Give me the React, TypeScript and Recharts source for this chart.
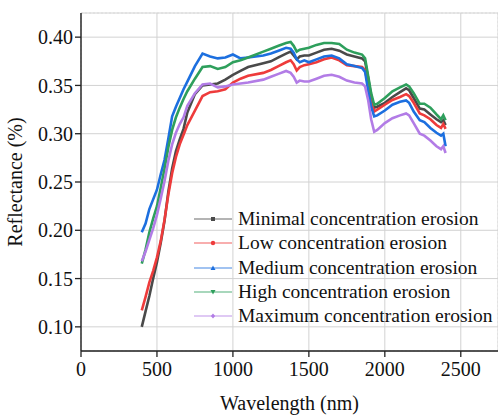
import React from 'react';
import { LineChart, Line, XAxis, YAxis, CartesianGrid } from 'recharts';

const FONT = 'Liberation Serif';

const wavelengths = [400, 425, 450, 475, 500, 525, 550, 575, 600, 625, 650, 675, 700, 750, 800, 850, 900, 950, 1000, 1050, 1100, 1200, 1250, 1300, 1350, 1380, 1400, 1420, 1440, 1470, 1500, 1550, 1600, 1650, 1700, 1750, 1800, 1850, 1870, 1890, 1910, 1930, 1950, 2000, 2050, 2100, 2140, 2160, 2190, 2230, 2260, 2300, 2340, 2370, 2385, 2400];

const minimal = [0.100, 0.116, 0.132, 0.150, 0.167, 0.187, 0.210, 0.240, 0.264, 0.282, 0.294, 0.305, 0.322, 0.341, 0.350, 0.351, 0.352, 0.356, 0.361, 0.365, 0.369, 0.373, 0.375, 0.379, 0.383, 0.385, 0.381, 0.377, 0.380, 0.381, 0.381, 0.384, 0.387, 0.388, 0.386, 0.382, 0.380, 0.378, 0.375, 0.358, 0.339, 0.327, 0.328, 0.332, 0.338, 0.343, 0.347, 0.345, 0.337, 0.326, 0.325, 0.320, 0.315, 0.312, 0.314, 0.309];
const low = [0.117, 0.131, 0.146, 0.158, 0.172, 0.189, 0.211, 0.237, 0.259, 0.276, 0.289, 0.299, 0.309, 0.324, 0.339, 0.343, 0.344, 0.346, 0.353, 0.357, 0.360, 0.363, 0.366, 0.370, 0.374, 0.376, 0.372, 0.3655, 0.369, 0.371, 0.372, 0.374, 0.377, 0.379, 0.376, 0.371, 0.370, 0.369, 0.366, 0.350, 0.333, 0.323, 0.325, 0.330, 0.335, 0.338, 0.341, 0.339, 0.332, 0.321, 0.319, 0.315, 0.309, 0.306, 0.310, 0.305];
const medium = [0.198, 0.207, 0.222, 0.232, 0.242, 0.258, 0.273, 0.295, 0.318, 0.328, 0.337, 0.346, 0.354, 0.370, 0.383, 0.380, 0.378, 0.379, 0.382, 0.378, 0.379, 0.381, 0.383, 0.386, 0.389, 0.388, 0.384, 0.377, 0.374, 0.376, 0.374, 0.377, 0.380, 0.381, 0.378, 0.372, 0.370, 0.368, 0.364, 0.345, 0.328, 0.318, 0.319, 0.324, 0.330, 0.333, 0.3345, 0.332, 0.323, 0.314, 0.312, 0.306, 0.301, 0.298, 0.300, 0.287];
const high = [0.1655, 0.180, 0.198, 0.212, 0.225, 0.244, 0.264, 0.286, 0.304, 0.317, 0.327, 0.336, 0.344, 0.357, 0.369, 0.370, 0.367, 0.369, 0.374, 0.376, 0.379, 0.385, 0.388, 0.391, 0.394, 0.395, 0.391, 0.385, 0.387, 0.388, 0.389, 0.392, 0.394, 0.394, 0.393, 0.387, 0.384, 0.382, 0.378, 0.360, 0.342, 0.330, 0.331, 0.337, 0.344, 0.348, 0.351, 0.349, 0.342, 0.331, 0.331, 0.327, 0.320, 0.315, 0.319, 0.314];
const maximum = [0.168, 0.178, 0.190, 0.202, 0.216, 0.233, 0.251, 0.272, 0.289, 0.301, 0.310, 0.317, 0.329, 0.342, 0.351, 0.352, 0.348, 0.349, 0.351, 0.352, 0.353, 0.356, 0.359, 0.362, 0.365, 0.363, 0.359, 0.353, 0.355, 0.354, 0.354, 0.357, 0.360, 0.361, 0.359, 0.355, 0.353, 0.352, 0.349, 0.335, 0.315, 0.302, 0.304, 0.311, 0.316, 0.319, 0.321, 0.319, 0.311, 0.300, 0.298, 0.293, 0.287, 0.284, 0.287, 0.280];

const seriesKeys = ['minimal', 'low', 'medium', 'high', 'maximum'];
const seriesNames = ['Minimal concentration erosion', 'Low concentration erosion', 'Medium concentration erosion', 'High concentration erosion', 'Maximum concentration erosion'];
const seriesColors = ['#4a4a4a', '#ee3b3b', '#1c6fdf', '#2e9f5c', '#b27ce6'];
const seriesMarkers = ['square', 'circle', 'triangle', 'triangleDown', 'diamond'];

const xMajorTicks = [0, 500, 1000, 1500, 2000, 2500];
const xMinorTicks = [250, 750, 1250, 1750, 2250];
const yMajorTicks = [0.1, 0.15, 0.2, 0.25, 0.3, 0.35, 0.4];
const yMinorTicks = [0.125, 0.175, 0.225, 0.275, 0.325, 0.375];
const xDomain = [0, 2745];
const yDomain = [0.075, 0.425];

const data = wavelengths.map((w, i) => ({
  w,
  minimal: minimal[i],
  low: low[i],
  medium: medium[i],
  high: high[i],
  maximum: maximum[i],
}));

const AXIS = '#222';
const tickStyle = { fill: '#111', fontSize: 20, fontFamily: FONT };

function Marker({ type, color }: { type: string; color: string }) {
  const cx = 19, cy = 6;
  if (type === 'square') return <rect x={cx - 2} y={cy - 2} width={4} height={4} fill={color} />;
  if (type === 'circle') return <circle cx={cx} cy={cy} r={2.2} fill={color} />;
  if (type === 'triangle') return <polygon points={`${cx},${cy - 2.5} ${cx - 2.5},${cy + 2} ${cx + 2.5},${cy + 2}`} fill={color} />;
  if (type === 'triangleDown') return <polygon points={`${cx},${cy + 2.5} ${cx - 2.5},${cy - 2} ${cx + 2.5},${cy - 2}`} fill={color} />;
  return <polygon points={`${cx},${cy - 2.6} ${cx + 2.2},${cy} ${cx},${cy + 2.6} ${cx - 2.2},${cy}`} fill={color} />;
}

const LegendBox = () => (
  <div style={{ position: 'absolute', left: 194, top: 206.8, fontFamily: FONT, fontSize: 19.5, color: '#111' }}>
    {seriesNames.map((name, i) => (
      <div key={name} style={{ display: 'flex', alignItems: 'center', height: 24.3, whiteSpace: 'nowrap' }}>
        <svg width={44} height={12} style={{ flex: 'none' }}>
          <line x1={0} y1={6} x2={38} y2={6} stroke={seriesColors[i]} strokeOpacity={0.55} strokeWidth={1.5} />
          <Marker type={seriesMarkers[i]} color={seriesColors[i]} />
        </svg>
        <span style={{ lineHeight: '24px' }}>{name}</span>
      </div>
    ))}
  </div>
);

const YTitle = (props: any) => {
  const vb = props.viewBox || {};
  const cy = (vb.y || 0) + (vb.height || 0) / 2;
  return (
    <text x={22} y={cy} transform={`rotate(-90, 22, ${cy})`} textAnchor="middle" fontSize={20} fill="#111" fontFamily={FONT}>
      Reflectance (%)
    </text>
  );
};

const XTitle = (props: any) => {
  const vb = props.viewBox || {};
  const cx = (vb.x || 0) + (vb.width || 0) / 2;
  const by = (vb.y || 0) + (vb.height || 0) - 7;
  return (
    <text x={cx} y={by} textAnchor="middle" fontSize={20} fill="#111" fontFamily={FONT}>
      Wavelength (nm)
    </text>
  );
};

export default function App() {
  return (
    <div style={{ position: 'absolute', left: 0, top: 0, width: 498, height: 417 }}>
      <LineChart width={498} height={417} data={data} margin={{ top: 13, right: 0, bottom: 0, left: 0 }}>
        <XAxis xAxisId="xminor" dataKey="w" type="number" domain={xDomain} ticks={xMinorTicks} orientation="bottom" height={0} axisLine={false} tick={false} tickSize={3} stroke={AXIS} tickLine={{ stroke: AXIS, strokeWidth: 1.2 }} />
        <XAxis
          xAxisId="x"
          dataKey="w"
          type="number"
          domain={xDomain}
          ticks={xMajorTicks}
          orientation="bottom"
          height={66}
          tickSize={6}
          tickMargin={5}
          stroke={AXIS}
          axisLine={{ stroke: AXIS, strokeWidth: 1.4 }}
          tickLine={{ stroke: AXIS, strokeWidth: 1.3 }}
          tick={tickStyle}
          label={<XTitle />}
        />
        <XAxis xAxisId="xtop" dataKey="w" type="number" domain={xDomain} ticks={xMajorTicks} orientation="top" height={0} tick={false} tickSize={-6} stroke={AXIS} axisLine={{ stroke: AXIS, strokeWidth: 1.4 }} tickLine={{ stroke: AXIS, strokeWidth: 1.3 }} />
        <XAxis xAxisId="xtopminor" dataKey="w" type="number" domain={xDomain} ticks={xMinorTicks} orientation="top" height={0} tick={false} tickSize={-3} axisLine={false} stroke={AXIS} tickLine={{ stroke: AXIS, strokeWidth: 1.2 }} />

        <YAxis yAxisId="yminor" type="number" domain={yDomain} ticks={yMinorTicks} orientation="left" width={0} axisLine={false} tick={false} tickSize={3} stroke={AXIS} tickLine={{ stroke: AXIS, strokeWidth: 1.2 }} />
        <YAxis
          yAxisId="y"
          type="number"
          domain={yDomain}
          ticks={yMajorTicks}
          orientation="left"
          width={81}
          tickSize={6}
          tickMargin={2}
          stroke={AXIS}
          axisLine={{ stroke: AXIS, strokeWidth: 1.4 }}
          tickLine={{ stroke: AXIS, strokeWidth: 1.3 }}
          tick={tickStyle}
          tickFormatter={(v: number) => v.toFixed(2)}
          label={<YTitle />}
        />
        <YAxis yAxisId="yright" type="number" domain={yDomain} ticks={yMajorTicks} orientation="right" width={0} tick={false} tickSize={-6} stroke={AXIS} axisLine={{ stroke: AXIS, strokeWidth: 1.4 }} tickLine={{ stroke: AXIS, strokeWidth: 1.3 }} />
        <YAxis yAxisId="yrightminor" type="number" domain={yDomain} ticks={yMinorTicks} orientation="right" width={0} tick={false} tickSize={-3} axisLine={false} stroke={AXIS} tickLine={{ stroke: AXIS, strokeWidth: 1.2 }} />

        <CartesianGrid xAxisId="xminor" yAxisId="yminor" stroke="#e3e3e3" strokeDasharray="2 2" />
        <CartesianGrid xAxisId="x" yAxisId="y" stroke="#d2d2d2" />

        {seriesKeys.map((k, i) => (
          <Line
            key={k}
            xAxisId="x"
            yAxisId="y"
            type="linear"
            dataKey={k}
            name={seriesNames[i]}
            stroke={seriesColors[i]}
            strokeWidth={2.6}
            dot={false}
            isAnimationActive={false}
          />
        ))}
      </LineChart>
      <LegendBox />
    </div>
  );
}
